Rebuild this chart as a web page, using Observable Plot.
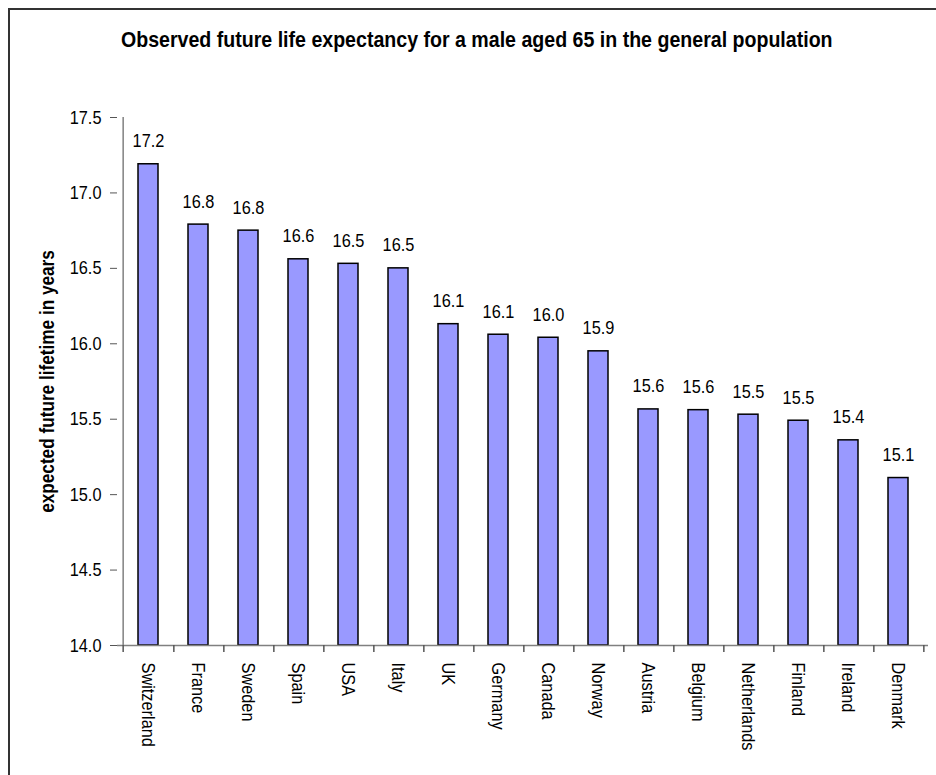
<!DOCTYPE html>
<html>
<head>
<meta charset="utf-8">
<script src="https://cdn.jsdelivr.net/npm/d3@7"></script>
<script src="https://cdn.jsdelivr.net/npm/@observablehq/plot@0.6"></script>
<style>
  html, body { margin: 0; padding: 0; background: #fff; overflow: hidden; }
  #wrap { position: relative; width: 936px; height: 775px; overflow: hidden; }
  #border { position: absolute; left: 8px; top: 8px; width: 960px; height: 820px; border: 2px solid #333; box-sizing: border-box; z-index: 5; pointer-events: none; }
  #title { position: absolute; left: 0; top: 27px; width: 954px; text-align: center;
    font-family: "Liberation Sans", Arial, sans-serif; font-weight: bold; font-size: 22px; line-height: 26px; color: #000; }
  #title span { display: inline-block; transform: scaleX(0.89); transform-origin: center; white-space: nowrap; }
  #chart { position: absolute; left: 0; top: 60px; }
  #chart svg { font-family: "Liberation Sans", Arial, sans-serif; }
</style>
</head>
<body>
<div id="wrap">
  <div id="title"><span>Observed future life expectancy for a male aged 65 in the general population</span></div>
  <div id="chart"></div>
  <div id="border"></div>
</div>
<script>
const countries = ["Switzerland", "France", "Sweden", "Spain", "USA", "Italy", "UK", "Germany", "Canada", "Norway", "Austria", "Belgium", "Netherlands", "Finland", "Ireland", "Denmark"];
const values = [17.19, 16.79, 16.75, 16.56, 16.53, 16.50, 16.13, 16.06, 16.04, 15.95, 15.565, 15.56, 15.53, 15.49, 15.36, 15.11];
const labels = ["17.2", "16.8", "16.8", "16.6", "16.5", "16.5", "16.1", "16.1", "16.0", "15.9", "15.6", "15.6", "15.5", "15.5", "15.4", "15.1"];
const yTicks = [14.0, 14.5, 15.0, 15.5, 16.0, 16.5, 17.0, 17.5];
const yTitle = "expected future lifetime in years";

const data = countries.map((c, i) => ({country: c, value: values[i], label: labels[i]}));

const W = 936, H = 715;
const mL = 117, mR = 8, mT = 57, mB = 130;
const step = (W - mL - mR) / countries.length;
const yDomain = [14, 17.5];
const unitsPerPx = (yDomain[1] - yDomain[0]) / (H - mT - mB);

const chart = Plot.plot({
  width: W,
  height: H,
  marginLeft: mL,
  marginRight: mR,
  marginTop: mT,
  marginBottom: mB,
  style: {fontSize: "19px", color: "#000", background: "transparent"},
  x: {domain: countries, paddingInner: 0.6, paddingOuter: 0.3, axis: null},
  y: {domain: yDomain, axis: null},
  marks: [
    Plot.barY(data, {x: "country", y1: yDomain[0], y2: "value", fill: "#9999ff", stroke: "#000", strokeWidth: 1.5}),
    Plot.ruleY([yDomain[0]], {stroke: "#808080", strokeWidth: 1.5}),
    Plot.ruleX([countries[0]], {dx: -step / 2, y1: yDomain[0], y2: yDomain[1], stroke: "#808080", strokeWidth: 1.5}),
    Plot.ruleX(countries, {x: d => d, dx: step / 2, y1: yDomain[0], y2: yDomain[0] - 7 * unitsPerPx, stroke: "#555", strokeWidth: 1.5}),
    Plot.ruleX([countries[0]], {dx: -step / 2, y1: yDomain[0], y2: yDomain[0] - 7 * unitsPerPx, stroke: "#555", strokeWidth: 1.5}),
    Plot.axisY({ticks: yTicks, tickFormat: d3.format(".1f"), tickSize: 7, tickPadding: 9, stroke: "#555", fontSize: 19, label: null, anchor: "left"}),
    Plot.text(data, {x: "country", y: "value", text: "label", dy: -23, fontSize: 19, fill: "#000"}),
    Plot.text(countries, {x: d => d, y: yDomain[0], text: d => d, rotate: 90, textAnchor: "start", dy: 17, fontSize: 19, fill: "#000"}),
    Plot.text([yTitle], {frameAnchor: "left", textAnchor: "middle", text: d => d, rotate: -90, dx: -70, fontSize: 20, fontWeight: "bold", fill: "#000"})
  ]
});
// narrow the glyphs (condensed face is not installed)
chart.querySelectorAll("text").forEach(t => {
  const tr = t.getAttribute("transform") || "";
  t.setAttribute("transform", tr + " scale(0.86,1)");
});
document.getElementById("chart").appendChild(chart);
</script>
</body>
</html>
